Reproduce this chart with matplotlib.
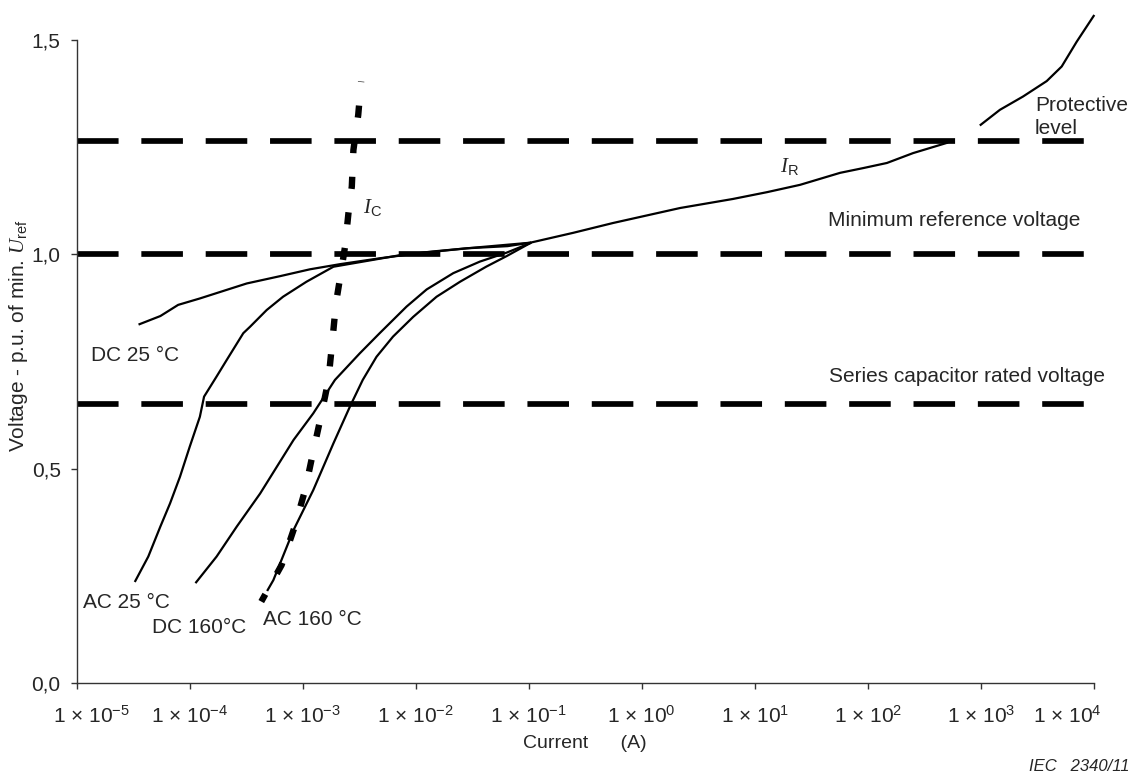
import matplotlib
matplotlib.use("Agg")
import matplotlib.pyplot as plt
from matplotlib.ticker import FixedLocator, NullLocator
from matplotlib.transforms import ScaledTranslation

plt.rcParams['font.family'] = ['Liberation Sans', 'DejaVu Sans']
plt.rcParams['mathtext.fontset'] = 'custom'
plt.rcParams['mathtext.rm'] = 'Liberation Sans'
plt.rcParams['mathtext.it'] = 'Liberation Serif:italic'
plt.rcParams['mathtext.bf'] = 'Liberation Sans:bold'

TEXT = '#262626'

# --- data (current in A, voltage in p.u.) ---
# DC 25 degC, which becomes the I_R curve, up to the protective level
ir_low_i = [3.6e-5, 5.5e-5, 7.9e-5, 1.23e-4, 3.2e-4, 6.3e-4, 1.16e-3, 2.14e-3,
            4.9e-3, 1.34e-2, 2.84e-2, 6.5e-2, 0.103, 0.247, 0.558, 2.19,
            6.4, 12.9, 25.2, 57, 91, 148, 252, 504]
ir_low_u = [0.837, 0.856, 0.882, 0.897, 0.932, 0.949, 0.965, 0.977,
            0.991, 1.006, 1.014, 1.019, 1.027, 1.050, 1.073, 1.108,
            1.129, 1.145, 1.162, 1.190, 1.201, 1.213, 1.236, 1.260]
# I_R above the protective level
ir_high_i = [1000, 1480, 2370, 3840, 5210, 7080, 1.0e4]
ir_high_u = [1.302, 1.337, 1.368, 1.404, 1.438, 1.496, 1.556]

ac25_i = [3.3e-5, 4.3e-5, 5.5e-5, 6.7e-5, 8.2e-5, 1.0e-4, 1.23e-4, 1.34e-4,
          1.73e-4, 2.12e-4, 2.98e-4, 3.42e-4, 4.8e-4, 6.7e-4, 1.08e-3, 1.87e-3,
          7.3e-3, 2.84e-2, 0.103]
ac25_u = [0.238, 0.295, 0.365, 0.419, 0.481, 0.551, 0.621, 0.668,
          0.715, 0.753, 0.816, 0.831, 0.870, 0.901, 0.936, 0.971,
          0.998, 1.014, 1.027]

dc160_i = [1.14e-4, 1.73e-4, 2.61e-4, 4.2e-4, 8.3e-4, 1.24e-3, 1.93e-3, 3.2e-3,
           4.8e-3, 8.3e-3, 1.25e-2, 2.15e-2, 3.7e-2, 6.4e-2, 0.103]
dc160_u = [0.235, 0.295, 0.365, 0.442, 0.567, 0.629, 0.707, 0.769,
           0.816, 0.878, 0.918, 0.956, 0.983, 1.004, 1.026]

ac160_i = [4.9e-4, 5.5e-4, 8.3e-4, 1.24e-3, 1.87e-3, 2.62e-3, 3.4e-3, 4.5e-3,
           6.3e-3, 9.5e-3, 1.53e-2, 2.47e-2, 4.2e-2, 6.4e-2, 0.103]
ac160_u = [0.217, 0.240, 0.357, 0.450, 0.559, 0.645, 0.707, 0.761,
           0.808, 0.854, 0.901, 0.936, 0.971, 0.996, 1.026]

ic_i = [4.3e-4, 6.5e-4, 8.5e-4, 1.05e-3, 1.24e-3, 1.47e-3, 1.69e-3, 1.84e-3,
        1.97e-3, 2.21e-3, 2.37e-3, 2.54e-3, 2.72e-3, 2.81e-3, 3.1e-3, 3.29e-3]
ic_u = [0.190, 0.275, 0.365, 0.450, 0.540, 0.629, 0.707, 0.804,
        0.886, 0.967, 1.018, 1.096, 1.158, 1.243, 1.325, 1.403]

# reference levels
levels = [1.264, 1.0, 0.651]

x_ticks = [1e-5, 1e-4, 1e-3, 1e-2, 1e-1, 1e0, 1e1, 1e2, 1e3, 1e4]
x_labels = ['1 × $10^{%d}$' % e for e in range(-5, 5)]
y_ticks = [0.0, 0.5, 1.0, 1.5]
y_labels = ['0,0', '0,5', '1,0', '1,5']

# --- figure ---
fig = plt.figure(figsize=(11.33, 7.76), dpi=100)
ax = fig.add_axes([0.0677, 0.1198, 0.8976, 0.8619])
ax.set_xscale('log')
ax.set_xlim(1e-5, 1e4)
ax.set_ylim(0, 1.56)

# horizontal reference levels
for lv in levels:
    ax.axhline(lv, color='black', lw=4.1, linestyle=(0, (7.3, 4.0)),
               dash_capstyle='butt')

curve_kw = dict(color='black', lw=1.6, clip_on=False, solid_joinstyle='round')
ax.plot(ir_low_i, ir_low_u, **curve_kw)
ax.plot(ir_high_i, ir_high_u, **curve_kw)
ax.plot(ac25_i, ac25_u, **curve_kw)
ax.plot(dc160_i, dc160_u, **curve_kw)
ax.plot(ac160_i, ac160_u, **curve_kw)
ax.plot(ic_i, ic_u, color='black', lw=4.6, linestyle=(0.6, (1.9, 3.7)),
        dash_capstyle='butt', clip_on=False)

# curve and level annotations
fs = 15
ax.text(3030, 1.335, 'Protective', fontsize=fs, color=TEXT)
ax.text(3030, 1.281, 'level', fontsize=fs, color=TEXT)
ax.text(44.6, 1.066, 'Minimum reference voltage', fontsize=fs, color=TEXT)
ax.text(45.5, 0.702, 'Series capacitor rated voltage', fontsize=fs, color=TEXT)
ax.text(1.33e-5, 0.752, 'DC 25 °C', fontsize=fs, color=TEXT)
ax.text(1.14e-5, 0.176, 'AC 25 °C', fontsize=fs, color=TEXT)
ax.text(4.6e-5, 0.117, 'DC 160°C', fontsize=fs, color=TEXT)
ax.text(4.48e-4, 0.135, 'AC 160 °C', fontsize=fs, color=TEXT)
ax.text(3.4e-3, 1.096, r'$\mathit{I}_\mathrm{C}$', fontsize=fs, color=TEXT)
ax.text(16.7, 1.193, r'$\mathit{I}_\mathrm{R}$', fontsize=fs, color=TEXT)

# axes styling
for side in ('top', 'right'):
    ax.spines[side].set_visible(False)
for side in ('left', 'bottom'):
    ax.spines[side].set_color('#333333')
    ax.spines[side].set_linewidth(1.0)
ax.spines['left'].set_bounds(0, 1.5)

ax.xaxis.set_major_locator(FixedLocator(x_ticks))
ax.xaxis.set_minor_locator(NullLocator())
ax.set_xticklabels(x_labels)
ax.set_yticks(y_ticks)
ax.set_yticklabels(y_labels)
ax.tick_params(axis='both', direction='out', length=4.5, width=1.0,
               color='#333333', labelcolor=TEXT, labelsize=15)
ax.tick_params(axis='x', pad=12)
ax.tick_params(axis='y', pad=7)

# end labels sit a bit inward in the reference
xt = ax.get_xticklabels()
for lab, dx in ((xt[0], 15), (xt[-1], -26)):
    lab.set_transform(lab.get_transform() + ScaledTranslation(dx / 100, 0, fig.dpi_scale_trans))

ax.set_xlabel('Current      (A)', fontsize=14, color=TEXT)
ax.xaxis.set_label_coords(0.5, -0.078)
ax.set_ylabel(r'Voltage - p.u. of min. $\mathit{U}_\mathrm{ref}$', fontsize=15, color=TEXT)
ax.yaxis.set_label_coords(-0.046, 0.519)

fig.text(0.997, 0.006, 'IEC   2340/11', fontsize=12, style='italic', color=TEXT,
         ha='right')

fig.savefig('out.png', dpi=100)
